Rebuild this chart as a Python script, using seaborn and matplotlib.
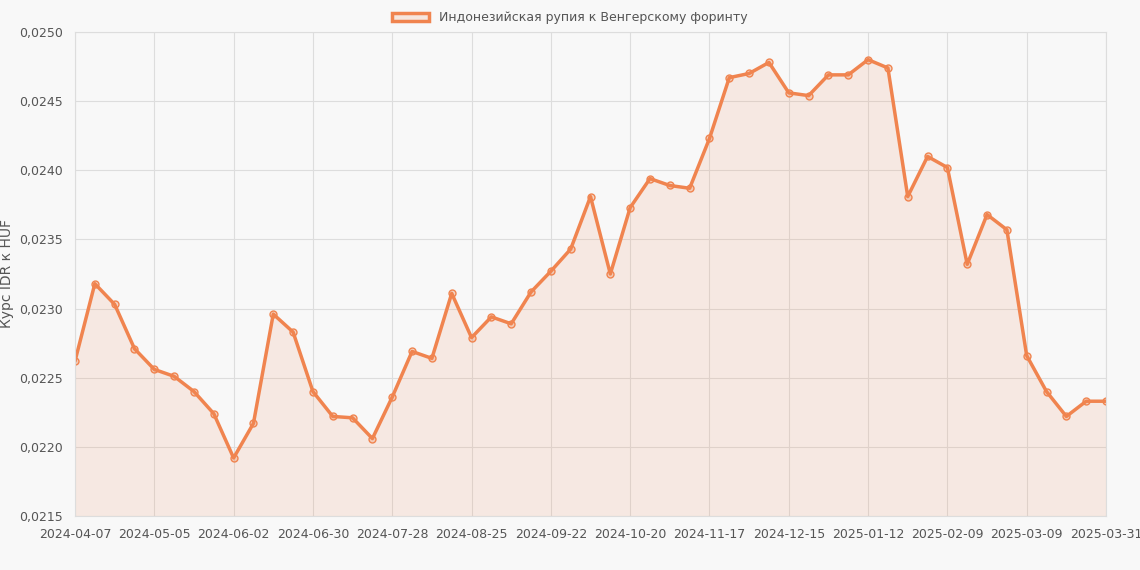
import matplotlib
matplotlib.use("Agg")
import matplotlib.pyplot as plt
import seaborn as sns
import pandas as pd
import numpy as np

values = [0.02262,0.02318,0.02303,0.02271,0.02256,0.02251,0.02240,0.02224,0.02192,0.02217,
          0.02296,0.02283,0.02240,0.02222,0.02221,0.02206,0.02236,0.02269,0.02264,0.02311,
          0.02279,0.02294,0.02289,0.02312,0.02327,0.02343,0.02381,0.02325,0.02373,0.02394,
          0.02389,0.02387,0.02423,0.02467,0.02470,0.02478,0.02456,0.02454,0.02469,0.02469,
          0.02480,0.02474,0.02381,0.02410,0.02402,0.02332,0.02368,0.02357,0.02266,0.02240,
          0.02222,0.02233,0.02233]
tick_labels = ["2024-04-07","2024-05-05","2024-06-02","2024-06-30","2024-07-28","2024-08-25",
               "2024-09-22","2024-10-20","2024-11-17","2024-12-15","2025-01-12","2025-02-09",
               "2025-03-09","2025-03-31"]
label = "Индонезийская рупия к Венгерскому форинту"

df = pd.DataFrame({"i": np.arange(len(values)), "v": values})
sns.set_style("white")
plt.rcParams['font.family'] = ['DejaVu Sans']
col = "#f0844f"
fig = plt.figure(figsize=(11.4, 5.7), dpi=100, facecolor="#f8f8f8")
ax = fig.add_axes([75/1140, 1-516/570, (1106-75)/1140, (516-32)/570])
ax.set_facecolor("#f8f8f8")
ax.fill_between(df["i"], values, 0.0215, color=col, alpha=0.13, lw=0)
sns.lineplot(data=df, x="i", y="v", ax=ax, color=col, lw=2.5, marker="o", markersize=5,
             markerfacecolor=(0.94,0.52,0.31,0.3), markeredgecolor=col, markeredgewidth=1)
ax.set_xlim(0, len(values)-1)
ax.set_ylim(0.0215, 0.0250)
ax.set_yticks(np.arange(0.0215, 0.02501, 0.0005))
ax.set_yticklabels([f"{t:.4f}".replace(".", ",") for t in np.arange(0.0215, 0.02501, 0.0005)])
ax.set_xticks(np.arange(0, len(values), 4))
ax.set_xticklabels(tick_labels)
ax.tick_params(labelsize=9, colors="#555555", length=5, color="#dddddd")
ax.grid(True, color="#dddddd", lw=0.8)
for s in ax.spines.values():
    s.set_color("#dddddd")
ax.set_xlabel("")
ax.set_ylabel("Курс IDR к HUF", fontsize=10, color="#555555")
from matplotlib.patches import Patch
fig.legend(handles=[Patch(facecolor=(0.94,0.52,0.31,0.15), edgecolor=col, lw=2.5, label=label)],
           loc="upper center", bbox_to_anchor=(0.5, 1.0), frameon=False, fontsize=9,
           labelcolor="#555555", handlelength=3)
fig.savefig("out.png", dpi=100, facecolor=fig.get_facecolor())
